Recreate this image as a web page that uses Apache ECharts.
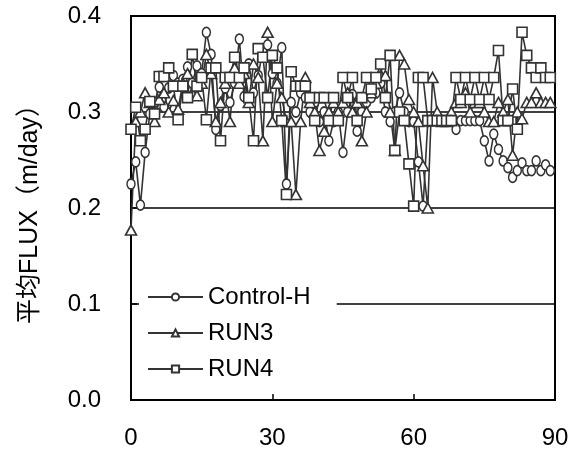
<!DOCTYPE html>
<html>
<head>
<meta charset="utf-8">
<script src="https://cdn.jsdelivr.net/npm/echarts@6/dist/echarts.min.js"></script>
<style>html,body{margin:0;padding:0;background:#fff}#c{width:576px;height:452px}</style>
</head>
<body>
<div id="c"></div>
<script>
var days = [0,1,2,3,4,5,6,7,8,9,10,11,12,13,14,15,16,17,18,19,20,21,22,23,24,25,26,27,28,29,
  30,31,32,33,34,35,36,37,38,39,40,41,42,43,44,45,46,47,48,49,50,51,52,53,54,55,56,57,58,59,
  60,61,62,63,64,65,66,67,68,69,70,71,72,73,74,75,76,77,78,79,80,81,82,83,84,85,86,87,88,89];

var controlH = [0.225,0.248,0.203,0.258,0.298,0.310,0.326,0.305,0.325,0.338,
  0.330,0.334,0.347,0.330,0.348,0.340,0.383,0.360,0.282,0.307,
  0.325,0.310,0.330,0.376,0.316,0.350,0.320,0.338,0.365,0.370,
  0.340,0.330,0.367,0.225,0.310,0.300,0.320,0.315,0.300,0.310,
  0.290,0.300,0.270,0.290,0.300,0.258,0.300,0.318,0.280,0.300,
  0.310,0.315,0.320,0.330,0.300,0.290,0.300,0.320,0.300,0.290,
  0.290,0.248,0.202,0.290,0.291,0.291,0.291,0.291,0.291,0.282,
  0.291,0.291,0.291,0.291,0.291,0.270,0.249,0.277,0.261,0.249,
  0.242,0.232,0.239,0.247,0.239,0.239,0.249,0.239,0.245,0.239];

var run3 = [0.177,0.290,0.300,0.320,0.310,0.290,0.313,0.320,0.300,0.312,
  0.303,0.330,0.340,0.320,0.317,0.330,0.360,0.340,0.290,0.310,
  0.330,0.290,0.346,0.330,0.340,0.310,0.350,0.336,0.270,0.383,
  0.290,0.330,0.315,0.290,0.290,0.214,0.290,0.336,0.310,0.300,
  0.260,0.280,0.300,0.310,0.300,0.310,0.320,0.300,0.310,0.270,
  0.300,0.320,0.330,0.338,0.338,0.300,0.260,0.359,0.350,0.313,
  0.300,0.290,0.244,0.200,0.336,0.300,0.290,0.290,0.300,0.310,
  0.310,0.320,0.300,0.310,0.310,0.300,0.290,0.290,0.310,0.300,
  0.313,0.255,0.300,0.293,0.310,0.310,0.320,0.310,0.310,0.310];

var run4 = [0.282,0.305,0.270,0.282,0.311,0.298,0.337,0.337,0.346,0.327,
  0.292,0.327,0.315,0.360,0.327,0.336,0.292,0.346,0.346,0.270,
  0.336,0.336,0.357,0.336,0.346,0.315,0.270,0.366,0.357,0.315,
  0.359,0.346,0.291,0.214,0.342,0.327,0.327,0.327,0.315,0.291,
  0.315,0.315,0.291,0.315,0.291,0.336,0.315,0.336,0.291,0.315,
  0.336,0.324,0.336,0.350,0.315,0.359,0.260,0.300,0.291,0.246,
  0.202,0.336,0.336,0.291,0.291,0.291,0.291,0.291,0.291,0.336,
  0.313,0.336,0.313,0.336,0.313,0.336,0.313,0.336,0.364,0.291,
  0.291,0.324,0.282,0.383,0.359,0.346,0.336,0.346,0.336,0.336];

var xTicks = [0, 30, 60, 90];
var yTicks = [0.0, 0.1, 0.2, 0.3, 0.4];
var seriesNames = ['Control-H', 'RUN3', 'RUN4'];
var yTitle = '平均FLUX（m/day）';

var FONT = '"Liberation Sans", Arial, "Noto Sans CJK SC", sans-serif';
var INK = '#333333';

function pairs(v) { return v.map(function (y, i) { return [days[i], y]; }); }

function mkSeries(name, data, symbol, size) {
  return {
    name: name, type: 'line', data: pairs(data),
    symbol: symbol, symbolSize: size, showSymbol: true,
    lineStyle: { color: INK, width: 1.6 },
    itemStyle: { color: '#fff', borderColor: INK, borderWidth: 1.6 },
    emphasis: { disabled: true },
    animation: false
  };
}

var chart = echarts.init(document.getElementById('c'), null, { renderer: 'canvas' });
chart.setOption({
  backgroundColor: '#fff',
  animation: false,
  grid: { left: 131, right: 21, top: 16, bottom: 52, show: true, borderColor: '#000', borderWidth: 2, backgroundColor: 'transparent' },
  legend: {
    orient: 'vertical', left: 139, top: 277,
    padding: [8, 26, 8, 8],
    backgroundColor: '#fff',
    itemWidth: 55, itemHeight: 9, itemGap: 12,
    textStyle: { fontFamily: FONT, fontSize: 24, color: '#000' },
    data: seriesNames
  },
  xAxis: {
    type: 'value', min: xTicks[0], max: xTicks[xTicks.length - 1], interval: 30,
    axisLine: { show: true, lineStyle: { color: '#000', width: 2 } },
    axisTick: { show: true, inside: true, length: 6, lineStyle: { color: '#000', width: 1.5 } },
    axisLabel: { fontFamily: FONT, fontSize: 24, color: '#000', margin: 26 },
    splitLine: { show: false }
  },
  yAxis: {
    type: 'value', min: yTicks[0], max: yTicks[yTicks.length - 1], interval: 0.1,
    name: yTitle, nameLocation: 'middle', nameGap: 88, nameRotate: 90,
    nameTextStyle: { fontFamily: FONT, fontSize: 25, color: '#000' },
    axisLine: { show: true, lineStyle: { color: '#000', width: 2 } },
    axisTick: { show: true, inside: true, length: 6, lineStyle: { color: '#000', width: 1.5 } },
    axisLabel: { fontFamily: FONT, fontSize: 24, color: '#000', margin: 30,
      formatter: function (v) { return v.toFixed(1); } },
    splitLine: { show: true, lineStyle: { color: '#000', width: 1.5 } }
  },
  series: [
    mkSeries(seriesNames[0], controlH, 'circle', [8, 10]),
    mkSeries(seriesNames[1], run3, 'triangle', [11, 10]),
    mkSeries(seriesNames[2], run4, 'rect', [10, 10])
  ]
});
</script>
</body>
</html>
